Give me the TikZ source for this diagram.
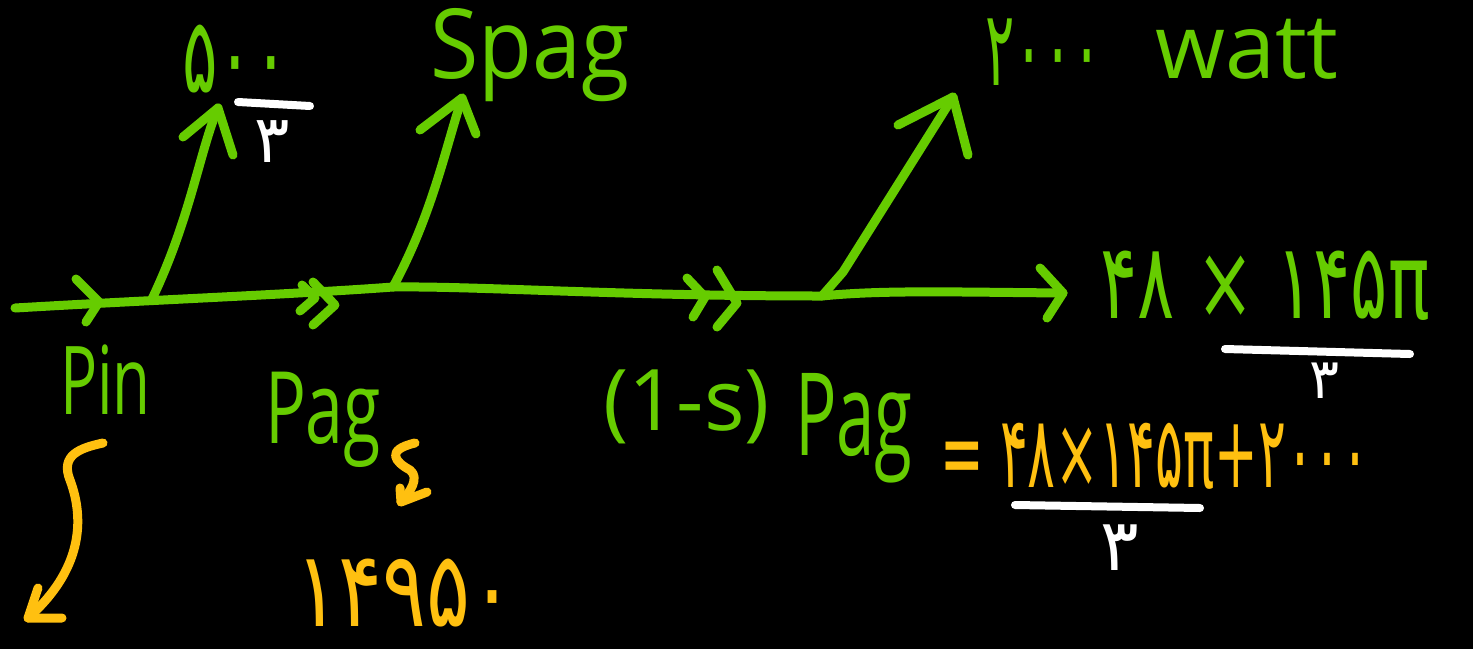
\documentclass[tikz,border=0pt]{standalone}
\usepackage{fontspec}
\usepackage{graphicx}
\setmainfont{Open Sans}
\newfontfamily\fa{DejaVu Sans}
\definecolor{hgreen}{RGB}{102,204,0}
\definecolor{horange}{RGB}{255,192,16}
\newcommand\fsz[1]{\fontsize{#1}{#1}\selectfont}
\begin{document}
\begin{tikzpicture}[x=1pt,y=-1pt,
  gline/.style={draw=hgreen,line width=9pt,line cap=round,line join=round},
  oline/.style={draw=horange,line width=9pt,line cap=round,line join=round},
  wline/.style={draw=white,line width=8pt,line cap=round},
  txt/.style={inner sep=0pt,outer sep=0pt},
  gtxt/.style={txt,text=hgreen},
  otxt/.style={txt,text=horange},
  wtxt/.style={txt,text=white}]
\fill[black] (0,0) rectangle (1473,649);
\useasboundingbox (0,0) rectangle (1473,649);

% main power-flow line
\coordinate (m0) at (15,308);
\coordinate (c1) at (99,302);
\coordinate (j1) at (152,299);
\coordinate (c2a) at (315,298);
\coordinate (c2b) at (335,305);
\coordinate (j2) at (393,287);
\coordinate (c3a) at (705,297);
\coordinate (c3b) at (737,303);
\coordinate (j3) at (822,296);
\coordinate (m1) at (1063,293);
\draw[gline] (m0) .. controls (150,300) and (300,294) .. (j2)
  .. controls (480,286) and (620,296) .. (j3)
  .. controls (880,290) and (950,292) .. (m1);
\draw[gline] (c1) ++(-23,-23) -- (c1) -- ++(-13,20);
\draw[gline] (c2a) ++(-13,-13) -- (c2a) -- ++(-15,13);
\draw[gline] (c2b) ++(-22,-23) -- (c2b) -- ++(-22,20);
\draw[gline] (c3a) ++(-18,-19) -- (c3a) -- ++(-12,20);
\draw[gline] (c3b) ++(-20,-33) -- (c3b) -- ++(-20,24);
\draw[gline] (m1) ++(-23,-25) -- (m1) -- ++(-16,25);

% branches
\coordinate (t1) at (218,108);
\coordinate (t2) at (462,98);
\coordinate (t3) at (953,97);
\draw[gline] (j1) .. controls (190,220) and (200,150) .. (t1);
\draw[gline] (t1) ++(-35,29) -- (t1) -- ++(15,47);
\draw[gline] (j2) .. controls (432,215) and (445,150) .. (t2);
\draw[gline] (t2) ++(-42,32) -- (t2) -- ++(14,36);
\draw[gline] (j3) -- (843,272) -- (t3);
\draw[gline] (t3) ++(-55,28) -- (t3) -- ++(15,58);

% labels
\node[gtxt,anchor=base west,text depth=0pt] (l500) at (182,92) {\fsz{105}\fa\scalebox{0.63}[1]{۵۰۰}};
\coordinate (b1a) at (238,102); \coordinate (b1b) at (310,106);
\draw[wline] (b1a) -- (b1b);
\node[wtxt,anchor=base,text height=44pt,text depth=0pt] (l3a) at (272,162) {\fsz{66}\fa ۳};

\node[gtxt,anchor=base west] (lspag) at (430,78) {\fsz{88}\scalebox{1}[1.1]{Spag}};
\node[gtxt,anchor=base west] (l2000) at (985,85) {\fsz{105}\fa\scalebox{0.52}[1]{۲۰۰۰}};
\node[gtxt,anchor=base west] (lwatt) at (1155,78) {\fsz{90}watt};

\node[gtxt,anchor=base west] (lout) at (1100,318) {\fsz{105}\fa\scalebox{0.66}[1]{۴۸ × ۱۴۵π}};
\coordinate (b2a) at (1225,349); \coordinate (b2b) at (1410,354);
\draw[wline] (b2a) -- (b2b);
\node[wtxt,anchor=base] (l3b) at (1325,398) {\fsz{56}\fa ۳};

\node[gtxt,anchor=base west] (lpin) at (60,414) {\fsz{95}\scalebox{0.65}[1]{Pin}};
\node[gtxt,anchor=base west] (lpag) at (265,443) {\fsz{100}\scalebox{0.68}[1]{Pag}};
\node[gtxt,anchor=base west] (l1s) at (603,430) {\fsz{85}(1-s)};
\node[gtxt,anchor=base west] (lpag2) at (795,455) {\fsz{115}\scalebox{0.6}[1]{Pag}};

\node[otxt,anchor=base west] (leq) at (940,487) {\fsz{100}\fa\scalebox{0.52}[1]{= ۴۸×۱۴۵π+۲۰۰۰}};
\coordinate (b3a) at (1015,505); \coordinate (b3b) at (1200,508);
\draw[wline] (b3a) -- (b3b);
\node[wtxt,anchor=base] (l3c) at (1120,570) {\fsz{72}\fa ۳};

\node[otxt,anchor=base west] (lbot) at (295,626) {\fsz{105}\fa\scalebox{0.78}[1]{۱۴۹۵۰}};

% orange arrows
\coordinate (a1s) at (103,443);
\coordinate (a1e) at (28,618);
\draw[oline] (a1s) .. controls (80,448) and (60,455) .. (70,480)
  .. controls (85,520) and (82,570) .. (a1e);
\draw[oline] (a1e) ++(10,-30) -- (a1e) -- ++(34,0);
\coordinate (a2s) at (415,443);
\coordinate (a2e) at (401,502);
\draw[oline] (a2s) .. controls (385,450) and (395,462) .. (410,470)
  .. controls (420,478) and (410,492) .. (a2e);
\draw[oline] (a2e) ++(-1,-14) -- (a2e) -- ++(26,-10);
\end{tikzpicture}
\end{document}
